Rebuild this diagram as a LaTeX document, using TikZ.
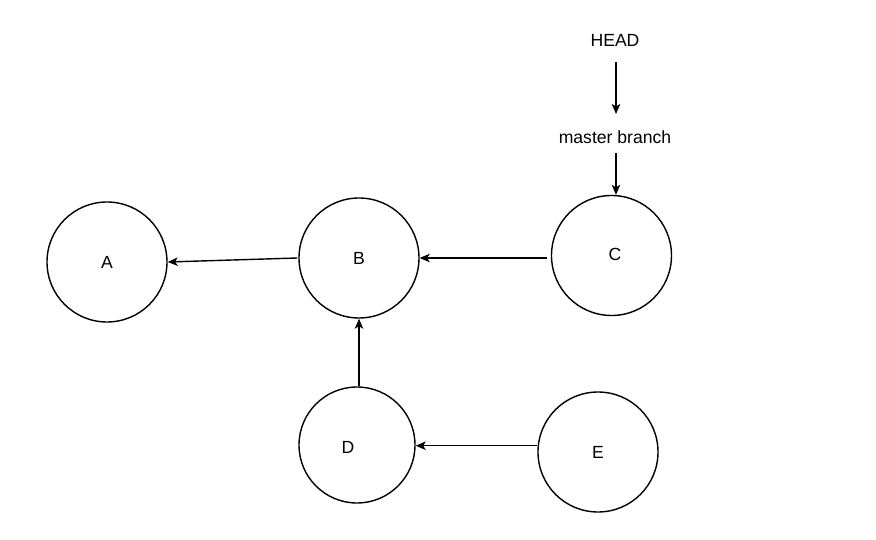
\documentclass[tikz,border=0pt]{standalone}
\usepackage{fontspec}
\setmainfont{Liberation Sans}
\usetikzlibrary{arrows.meta}
\begin{document}
\begin{tikzpicture}[x=1pt,y=-1pt,
  commit/.style={circle,draw,line width=1.4pt,inner sep=0pt,minimum size=#1},
  commit/.default=120pt,
  conn/.style={line width=1.4pt,-{Stealth[length=10pt,width=8.5pt,inset=2.5pt]}},
  txt/.style={font=\fontsize{17.6}{20}\selectfont,inner sep=0pt}]
\useasboundingbox (0,0) rectangle (876,540);
\node[commit,label={[txt]center:A}] (A) at (107,262) {};
\node[commit,label={[txt]center:B}] (B) at (359,258) {};
\node[commit,label={[txt,xshift=3.5pt,yshift=1pt]center:C}] (C) at (611.5,255.5) {};
\node[commit=116pt,label={[txt,xshift=-9pt,yshift=-2pt]center:D}] (D) at (357,445) {};
\node[commit,label={[txt]center:E}] (E) at (598,452) {};
\node[txt] (head) at (615,40) {HEAD};
\node[txt] (master) at (615,137) {master branch};
\coordinate (h1) at (616,62);
\coordinate (h2) at (616,114);
\coordinate (m1) at (616,153);
\draw[conn] (h1) -- (h2);
\draw[conn] (m1) -- (C.north -| m1);
\draw[conn] ([xshift=-1pt]B.west) -- (A.east);
\draw[conn] ([xshift=-4pt]C.west |- B.east) -- (B.east);
\draw[conn] (D.north -| B.south) -- (B.south);
\draw[conn] (E.west |- 0,445.7) -- (D.east |- 0,445.7);
\end{tikzpicture}
\end{document}
